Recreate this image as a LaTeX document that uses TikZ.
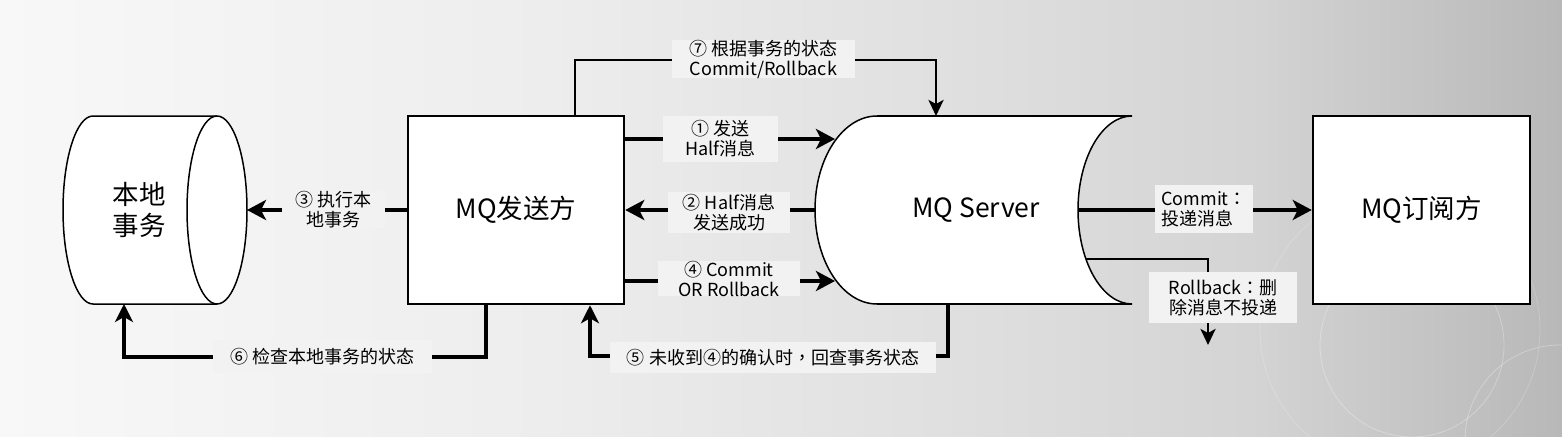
\documentclass[tikz,border=0pt]{standalone}
\usepackage{fontspec}
\setmainfont{Noto Sans CJK SC}
\newfontfamily\tcpunct{Noto Sans CJK TC}
\usetikzlibrary{arrows.meta,calc}
\definecolor{lblbg}{RGB}{242,242,242}
\definecolor{bgA}{RGB}{248,248,248}
\definecolor{bgB}{RGB}{237,237,237}
\definecolor{bgC}{RGB}{224,224,224}
\definecolor{bgD}{RGB}{212,212,212}
\definecolor{bgE}{RGB}{184,184,184}
\pgfdeclarehorizontalshading{bgshade}{100bp}{color(0bp)=(bgA); color(25bp)=(bgA); color(42.5bp)=(bgB); color(55bp)=(bgC); color(65bp)=(bgD); color(75bp)=(bgE); color(100bp)=(bgE)}
\begin{document}
\begin{tikzpicture}[x=1pt,y=-1pt,
  every node/.style={font=\fontsize{18}{20}\selectfont},
  bigtxt/.style={font=\fontsize{26.5}{31}\selectfont, align=center},
  boxnode/.style={draw, line width=2.5pt, fill=white, minimum width=216, minimum height=188, inner sep=0pt, font=\fontsize{26.5}{31}\selectfont},
  lbl/.style={fill=lblbg, inner sep=0pt, align=center},
  thk/.style={line width=4pt, -{Stealth[length=19pt,width=20pt,inset=5pt]}},
  mid/.style={line width=3.2pt, -{Stealth[length=18pt,width=18pt,inset=5pt]}},
  thin/.style={line width=2.8pt, -{Stealth[length=16pt,width=15pt,inset=4pt]}}]
% background
\shade[shading=bgshade] (0,0) rectangle (1562,436);
\useasboundingbox (0,0) rectangle (1562,436);
\draw[white, opacity=0.3, line width=0.8pt] (1412,345) circle[radius=92];
\draw[white, opacity=0.3, line width=0.8pt] (1560,440) circle[radius=95];
\draw[white, opacity=0.2, line width=0.8pt] (1400,330) circle[radius=140];

% local transaction cylinder
\filldraw[fill=white, line width=1.5pt] (93,116) -- (217,116)
  arc[start angle=-90, end angle=90, x radius=30, y radius=94] -- (93,304)
  arc[start angle=90, end angle=270, x radius=30, y radius=94] -- cycle;
\draw[line width=1.5pt] (217,116) arc[start angle=-90, end angle=-270, x radius=30, y radius=94];
\node[bigtxt] (local) at (139,210) {本地\\事务};
\coordinate (localR) at (247,210);
\coordinate (localB) at (124,304);

% sender
\node[boxnode] (sender) at (516,210) {MQ发送方};

% MQ server
\filldraw[fill=white, line width=1.5pt] (877,116) -- (1132,116)
  arc[start angle=-90, end angle=-270, x radius=54, y radius=94] -- (877,304)
  arc[start angle=90, end angle=270, x radius=62, y radius=94] -- cycle;
\draw[line width=2.5pt] (877,116) -- (1132,116);
\draw[line width=2.5pt] (877,304) -- (1132,304);
\node[font=\fontsize{26.5}{31}\selectfont] (server) at (976,210) {MQ Server};
\coordinate (srvL1) at (835,139);
\coordinate (srvL) at (816,210);
\coordinate (srvL4) at (835,281);
\coordinate (srvR) at (1078,210);
\coordinate (srvRb) at (1086,259);
\coordinate (srvT) at (936,116);
\coordinate (srvB) at (948,304);

% subscriber
\node[boxnode, minimum width=217] (sub) at (1421.5,210) {MQ订阅方};

% arrows
\draw[thk] ([yshift=71pt]sender.east) -- (srvL1);
\draw[thk] (srvL) -- (sender.east);
\draw[thk] ([yshift=-71pt]sender.east) -- (srvL4);
\draw[thk] (sender.west) -- (localR);
\draw[thk] (srvR) -- (sub.west);
\draw[mid] (sender.south -| 486,0) -- (486,357) -- (124,357) -- (localB);
\draw[mid] (srvB) -- (948,356) -- (590,356) -- (sender.south -| 590,0);
\draw[thin] (sender.north -| 575,0) -- (575,60) -- (936,60) -- (srvT);
\draw[thin] (srvRb) -- (1208,259) -- (1208,345) coordinate (rbEnd);

% labels
\node[lbl, minimum width=115, minimum height=46] (l1) at (720.5,139) {① 发送\\Half消息};
\node[lbl, minimum width=122, minimum height=41] (l2) at (729,212.5) {② Half消息\\发送成功};
\node[lbl, minimum width=103, minimum height=33] (l3) at (333.5,209.5) {③ 执行本\\地事务};
\node[lbl, minimum width=142, minimum height=33] (l4) at (729,278.5) {④ Commit\\OR Rollback};
\node[lbl, minimum width=326, minimum height=31] (l5) at (773,357.5) {⑤ 未收到④的确认时{\tcpunct ，}回查事务状态};
\node[lbl, minimum width=219, minimum height=33] (l6) at (322.5,356.5) {⑥ 检查本地事务的状态};
\node[lbl, minimum width=183, minimum height=38] (l7) at (763.5,59) {⑦ 根据事务的状态\\Commit/Rollback};
\node[lbl, minimum width=98, minimum height=48, align=left] (lc) at (1204,209) {Commit{\tcpunct ：}\\投递消息};
\node[lbl, minimum width=148, minimum height=51] (lr) at (1223,297.5) {Rollback{\tcpunct ：}删\\除消息不投递};
\end{tikzpicture}
\end{document}
